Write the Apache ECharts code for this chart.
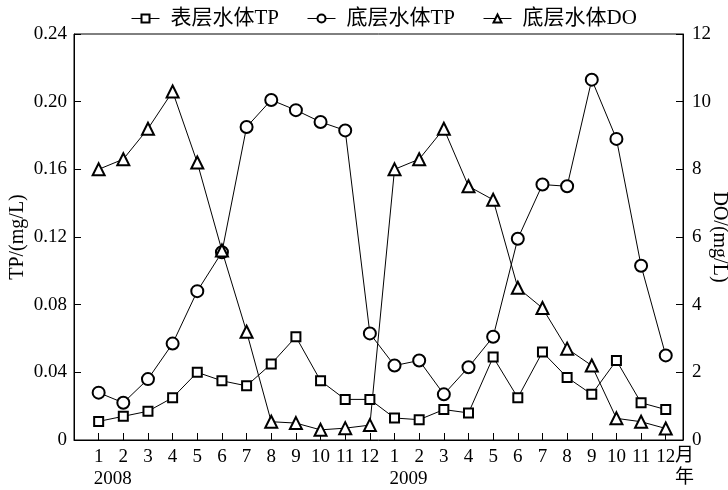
<!DOCTYPE html>
<html>
<head>
<meta charset="utf-8">
<script src="https://cdn.jsdelivr.net/npm/echarts@6/dist/echarts.min.js"></script>
<style>
  html, body { margin: 0; padding: 0; background: #fff; }
  #chart { width: 728px; height: 490px; }
</style>
</head>
<body>
<div id="chart"></div>
<script>
var months = ['1','2','3','4','5','6','7','8','9','10','11','12','1','2','3','4','5','6','7','8','9','10','11','12'];
var years = ['2008', '2009'];
var surfaceTP = [0.011,0.014,0.017,0.025,0.040,0.035,0.032,0.045,0.061,0.035,0.024,0.024,
                 0.013,0.012,0.018,0.016,0.049,0.025,0.052,0.037,0.027,0.047,0.022,0.018];
var bottomTP = [0.028,0.022,0.036,0.057,0.088,0.111,0.185,0.201,0.195,0.188,0.183,0.063,
                0.044,0.047,0.027,0.043,0.061,0.119,0.151,0.150,0.213,0.178,0.103,0.050];
var bottomDO = [8.0,8.3,9.2,10.3,8.2,5.6,3.2,0.54,0.5,0.3,0.35,0.44,
                8.0,8.3,9.2,7.5,7.1,4.5,3.9,2.7,2.2,0.64,0.54,0.34];

var font = "'Liberation Serif', 'Noto Sans CJK SC', serif";

// x positions are month index 1..24 on a value axis
function pairs(arr) {
  return arr.map(function (v, i) { return [i + 1, v]; });
}

var chart = echarts.init(document.getElementById('chart'));

function lineSeries(name, data, symbol, size, yIndex) {
  return {
    name: name,
    type: 'line',
    yAxisIndex: yIndex,
    data: pairs(data),
    symbol: symbol,
    symbolSize: size,
    showAllSymbol: true,
    lineStyle: { color: '#000', width: 1 },
    itemStyle: { color: '#000', borderColor: '#000', borderWidth: 1 },
    emphasis: { disabled: true }
  };
}

var option = {
  animation: false,
  textStyle: { fontFamily: font, color: '#000' },
  legend: {
    top: 3,
    left: 126,
    itemWidth: 28,
    itemHeight: 10,
    itemGap: 28,
    lineStyle: { width: 1 },
    itemStyle: { borderWidth: 1 },
    textStyle: { fontFamily: font, fontSize: 21, color: '#000', padding: [0, 0, 0, 6] },
    data: ['表层水体TP', '底层水体TP', '底层水体DO']
  },
  grid: {
    left: 74, right: 45, top: 34, bottom: 50,
    containLabel: false,
    outerBoundsMode: 'none',
    show: true, borderColor: '#000', borderWidth: 1
  },
  xAxis: {
    type: 'value',
    min: 0,
    max: 24.7,
    interval: 1,
    splitLine: { show: false },
    axisLine: { lineStyle: { color: '#000', width: 1 } },
    axisTick: { inside: true, length: 7, lineStyle: { color: '#000' } },
    axisLabel: {
      color: '#000',
      fontFamily: font,
      fontSize: 19,
      margin: 6,
      showMinLabel: false,
      showMaxLabel: false,
      formatter: function (v) {
        if (v < 1 || v > 24 || v !== Math.round(v)) return '';
        var m = months[v - 1];
        if (v === 1) return m + '\n{y|' + years[0] + '}';
        if (v === 13) return m + '\n{y|' + years[1] + '}';
        return m;
      },
      lineHeight: 22,
      rich: {
        y: { fontFamily: font, fontSize: 19, color: '#000', padding: [0, 0, 0, 28], lineHeight: 22 }
      }
    },
    name: '月\n年',
    nameLocation: 'end',
    nameGap: -8,
    nameMoveOverlap: false,
    nameTextStyle: {
      fontFamily: font, fontSize: 19, color: '#000',
      verticalAlign: 'top', align: 'left', lineHeight: 22, padding: [5, 0, 0, 0]
    }
  },
  yAxis: [
    {
      type: 'value',
      min: 0,
      max: 0.24,
      interval: 0.04,
      position: 'left',
      splitLine: { show: false },
      axisLine: { show: true, lineStyle: { color: '#000', width: 1 } },
      axisTick: { show: true, inside: true, length: 7, lineStyle: { color: '#000' } },
      axisLabel: {
        color: '#000', fontFamily: font, fontSize: 19, margin: 7,
        formatter: function (v) { return v === 0 ? '0' : v.toFixed(2); }
      },
      name: 'TP/(mg/L)',
      nameLocation: 'middle',
      nameGap: 46,
      nameMoveOverlap: false,
      nameTextStyle: { fontFamily: font, fontSize: 20, color: '#000' }
    },
    {
      type: 'value',
      min: 0,
      max: 12,
      interval: 2,
      position: 'right',
      splitLine: { show: false },
      axisLine: { show: true, lineStyle: { color: '#000', width: 1 } },
      axisTick: { show: true, inside: true, length: 7, lineStyle: { color: '#000' } },
      axisLabel: { color: '#000', fontFamily: font, fontSize: 19, margin: 9 },
      name: 'DO/(mg/L)',
      nameLocation: 'middle',
      nameGap: 26,
      nameRotate: -90,
      nameMoveOverlap: false,
      nameTextStyle: { fontFamily: font, fontSize: 20, color: '#000' }
    }
  ],
  series: [
    lineSeries('表层水体TP', surfaceTP, 'emptyRect', 9, 0),
    lineSeries('底层水体TP', bottomTP, 'emptyCircle', 12, 0),
    lineSeries('底层水体DO', bottomDO, 'emptyTriangle', 12, 1)
  ]
};

chart.setOption(option);
</script>
</body>
</html>
